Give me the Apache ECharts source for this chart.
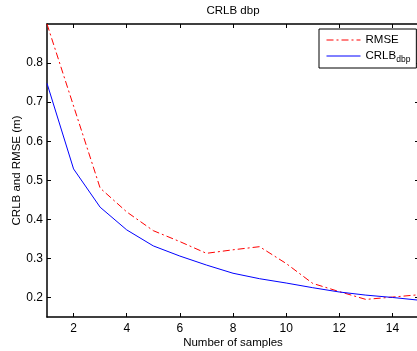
<!DOCTYPE html>
<html><head><meta charset="utf-8">
<script src="https://cdn.jsdelivr.net/npm/echarts@6/dist/echarts.min.js"></script>
<style>html,body{margin:0;padding:0;background:#fff}#c{width:417px;height:351px}</style>
</head><body><div id="c"></div>
<script>
const samples = [1,2,3,4,5,6,7,8,9,10,11,12,13,14,15];
const rmse = [0.9,0.69,0.48,0.419,0.371,0.343,0.313,0.322,0.33,0.287,0.236,0.215,0.195,0.201,0.207];
const crlb = [0.748,0.529,0.431,0.373,0.332,0.306,0.283,0.262,0.248,0.237,0.225,0.214,0.206,0.2,0.193];
const xTicks = [2,4,6,8,10,12,14];
const yTicks = [0.2,0.3,0.4,0.5,0.6,0.7,0.8];
const FONT = 'Liberation Sans';
const chart = echarts.init(document.getElementById('c'));
const axisLine = {show:true, lineStyle:{color:'#000', width:1.5}};
const tick = {show:true, inside:true, length:4, lineStyle:{color:'#000'}};
chart.setOption({
  animation:false,
  title:{text:'CRLB dbp', left:228, top:0, textAlign:'center', textStyle:{fontFamily:FONT, fontSize:11.5, fontWeight:'normal', color:'#000'}},
  grid:{left:47, top:24, width:372, height:293, containLabel:false, outerBoundsMode:'none'},
  legend:{
    orient:'vertical', left:319, top:29, padding:[5,6,4,7], itemGap:4, itemWidth:34, itemHeight:12,
    borderColor:'#000', borderWidth:1, backgroundColor:'#fff',
    lineStyle:{width:1},
    itemStyle:{color:'rgba(0,0,0,0)', borderWidth:0, opacity:0},
    textStyle:{fontFamily:FONT, fontSize:11.5, color:'#000', rich:{
      a:{fontFamily:FONT, fontSize:11.5, color:'#000'},
      s:{fontFamily:FONT, fontSize:8.5, color:'#000', padding:[7,0,0,0]}
    }},
    formatter: n => n === 'CRLB' ? '{a|CRLB}{s|dbp}' : n,
    data:['RMSE','CRLB']
  },
  xAxis:[{
    type:'value', min:1, max:15, position:'bottom',
    axisLine, axisTick:{...tick, customValues:xTicks}, splitLine:{show:false},
    axisLabel:{customValues:xTicks, fontFamily:FONT, fontSize:12, color:'#000', margin:6},
    name:'Number of samples', nameLocation:'middle', nameGap:20, nameMoveOverlap:false,
    nameTextStyle:{fontFamily:FONT, fontSize:11.5, color:'#000'}
  },{
    type:'value', min:1, max:15, position:'top',
    axisLine, axisTick:{...tick, customValues:xTicks}, splitLine:{show:false},
    axisLabel:{show:false}
  }],
  yAxis:[{
    type:'value', min:0.15, max:0.9, position:'left',
    axisLine, axisTick:{...tick, customValues:yTicks}, splitLine:{show:false},
    axisLabel:{customValues:yTicks, fontFamily:FONT, fontSize:12, color:'#000', margin:4, formatter:v=>v.toFixed(1)},
    name:'CRLB and RMSE (m)', nameLocation:'middle', nameGap:24, nameMoveOverlap:false,
    nameTextStyle:{fontFamily:FONT, fontSize:11.5, color:'#000'}
  },{
    type:'value', min:0.15, max:0.9, position:'right',
    axisLine, axisTick:{...tick, customValues:yTicks}, splitLine:{show:false},
    axisLabel:{show:false}
  }],
  series:[
    {name:'RMSE', type:'line', symbol:'none', data:samples.map((x,i)=>[x,rmse[i]]),
     lineStyle:{color:'#ff0000', width:1, type:[7,3,2,3]}, itemStyle:{color:'#ff0000'}},
    {name:'CRLB', type:'line', symbol:'none', data:samples.map((x,i)=>[x,crlb[i]]),
     lineStyle:{color:'#0000ff', width:1}, itemStyle:{color:'#0000ff'}}
  ]
});
</script></body></html>
